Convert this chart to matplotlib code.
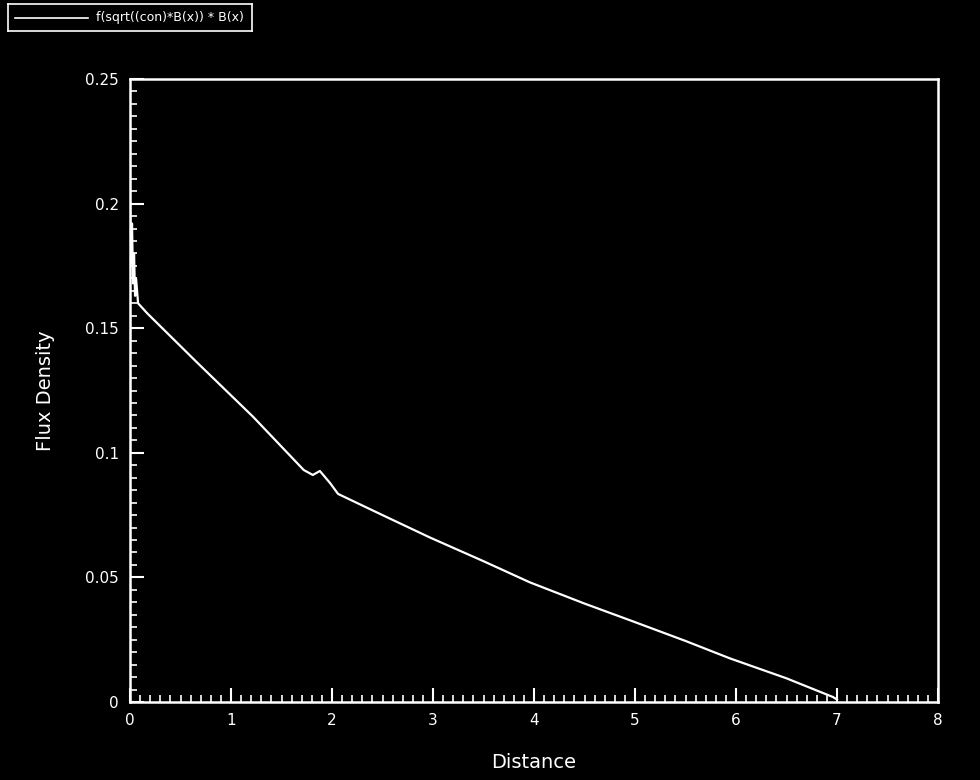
import matplotlib
matplotlib.use("Agg")
import matplotlib.pyplot as plt
from matplotlib.ticker import MultipleLocator

# Flux density profile vs distance
distance = [0.00, 0.01, 0.02, 0.03, 0.04, 0.05, 0.06, 0.08, 0.17, 0.66, 1.22,
            1.72, 1.81, 1.88, 1.98, 2.06, 2.50, 2.97, 3.50, 3.96, 4.50, 4.95,
            5.50, 5.94, 6.50, 6.96, 7.00]
flux = [0.200, 0.176, 0.192, 0.168, 0.180, 0.163, 0.170, 0.160, 0.156, 0.1364, 0.1144,
        0.0931, 0.0911, 0.0927, 0.0879, 0.0835, 0.0750, 0.0660, 0.0565, 0.0480, 0.0395,
        0.0328, 0.0245, 0.0175, 0.0095, 0.0020, 0.0010]

series_label = "f(sqrt((con)*B(x)) * B(x)"
x_ticks = [0, 1, 2, 3, 4, 5, 6, 7, 8]
y_ticks = [0, 0.05, 0.1, 0.15, 0.2, 0.25]
y_tick_labels = ["0", "0.05", "0.1", "0.15", "0.2", "0.25"]

plt.rcParams["font.family"] = ["DejaVu Sans"]

fig = plt.figure(figsize=(9.8, 7.8), dpi=100, facecolor="black")
ax = fig.add_axes([130 / 980, 1 - 702 / 780, 808 / 980, 623 / 780])
ax.set_facecolor("black")

ax.plot(distance, flux, color="white", lw=1.6)

ax.set_xlim(0, 8)
ax.set_ylim(0, 0.25)
ax.set_xticks(x_ticks)
ax.set_yticks(y_ticks)
ax.set_yticklabels(y_tick_labels)
ax.xaxis.set_minor_locator(MultipleLocator(0.1))
ax.yaxis.set_minor_locator(MultipleLocator(0.005))

ax.tick_params(which="major", direction="in", length=10, width=1.5,
               colors="white", labelsize=11, pad=8)
ax.tick_params(which="minor", direction="in", length=5, width=1.2, colors="white")
ax.tick_params(top=False, right=False, which="both")

for side in ax.spines.values():
    side.set_color("white")
    side.set_linewidth(1.8)

ax.set_xlabel("Distance", color="white", fontsize=14, labelpad=18)
ax.set_ylabel("Flux Density", color="white", fontsize=14, labelpad=22)

# Series key box in the top-left corner
key = fig.add_axes([8 / 980, 1 - 31 / 780, 244 / 980, 27 / 780])
key.set_facecolor("black")
key.set_xlim(0, 244)
key.set_ylim(0, 27)
key.set_xticks([])
key.set_yticks([])
for side in key.spines.values():
    side.set_color("white")
    side.set_linewidth(1.2)
key.plot([7, 80], [13.5, 13.5], color="white", lw=1.2)
key.text(88, 13.5, series_label, color="white", fontsize=9, va="center", ha="left")

fig.savefig("out.png", dpi=100, facecolor="black")
